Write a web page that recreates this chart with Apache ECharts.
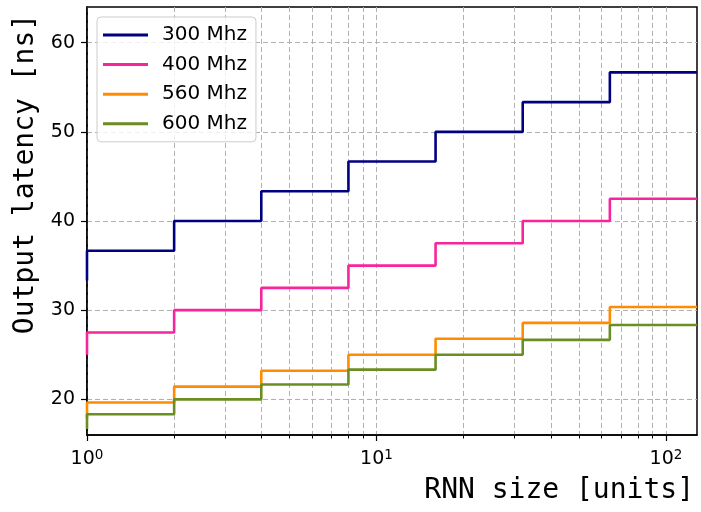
<!DOCTYPE html>
<html>
<head>
<meta charset="utf-8">
<script src="https://cdn.jsdelivr.net/npm/echarts@6/dist/echarts.min.js"></script>
<style>
  html, body { margin: 0; padding: 0; background: #fff; }
  #chart { width: 701px; height: 512px; }
</style>
</head>
<body>
<div id="chart"></div>
<script>
// RNN size (units)
var rnnSizes = [1, 2, 4, 8, 16, 32, 64, 128];
// Output latency (ns) per clock frequency
var lat300 = [33.33, 36.67, 40.00, 43.33, 46.67, 50.00, 53.33, 56.67];
var lat400 = [25.00, 27.50, 30.00, 32.50, 35.00, 37.50, 40.00, 42.50];
var lat560 = [17.86, 19.64, 21.43, 23.21, 25.00, 26.79, 28.57, 30.36];
var lat600 = [16.67, 18.33, 20.00, 21.67, 23.33, 25.00, 26.67, 28.33];
var seriesNames = ['300 Mhz', '400 Mhz', '560 Mhz', '600 Mhz'];
// Tick positions
var xMajorTicks = [1, 10, 100];
var xMinorTicks = [2, 3, 4, 5, 6, 7, 8, 9, 20, 30, 40, 50, 60, 70, 80, 90];
var yTicks = [20, 30, 40, 50, 60];

var colors = ['#000080', '#f7259b', '#ff8c00', '#6b8e23'];
var allData = [lat300, lat400, lat560, lat600];

function pairs(xs, ys) {
  return xs.map(function (x, i) { return [x, ys[i]]; });
}

var gridLine = { show: true, lineStyle: { color: '#b0b0b0', width: 1, type: [5, 3] } };

var chart = echarts.init(document.getElementById('chart'), null, { renderer: 'canvas' });
var option = {
  animation: false,
  backgroundColor: '#fff',
  title: {
    text: 'RNN size [units]',
    right: 7,
    top: 477,
    padding: 0,
    textStyle: { fontFamily: 'DejaVu Sans Mono', fontSize: 28, fontWeight: 'normal', color: '#000' }
  },
  grid: {
    left: 87, right: 4, top: 7, bottom: 77,
    show: true, borderColor: '#000', borderWidth: 1.5, backgroundColor: 'transparent'
  },
  legend: {
    orient: 'vertical',
    left: 97, top: 17,
    data: seriesNames,
    icon: 'rect',
    itemWidth: 45, itemHeight: 3,
    itemGap: 9.6,
    padding: [8, 9, 8, 6],
    backgroundColor: 'rgba(255,255,255,0.8)',
    borderColor: '#cccccc', borderWidth: 1, borderRadius: 4,
    textStyle: { fontFamily: 'DejaVu Sans', fontSize: 20, color: '#000', padding: [0, 0, 0, 9] }
  },
  xAxis: [
    {
      type: 'log', logBase: 10, min: 1, max: 128,
      axisLine: { show: true, lineStyle: { color: '#000', width: 1.5 } },
      axisTick: { show: true, inside: false, length: 6, lineStyle: { color: '#000', width: 1.2 }, customValues: xMajorTicks },
      axisLabel: {
        customValues: xMajorTicks,
        margin: 13,
        formatter: function (v) {
          var n = Math.round(Math.log10(v));
          return '{b|10}{s|' + n + '}';
        },
        rich: {
          b: { fontFamily: 'DejaVu Sans', fontSize: 19, color: '#000', lineHeight: 22, verticalAlign: 'middle' },
          s: { fontFamily: 'DejaVu Sans', fontSize: 13.5, color: '#000', verticalAlign: 'top' }
        }
      },
      splitLine: gridLine
    },
    {
      type: 'log', logBase: 10, min: 1, max: 128, position: 'bottom',
      axisLine: { show: false },
      axisTick: { show: true, inside: false, length: 3.5, lineStyle: { color: '#000', width: 1 }, customValues: xMinorTicks },
      axisLabel: { show: false },
      splitLine: gridLine
    }
  ],
  yAxis: {
    type: 'value', min: 16, max: 64,
    name: 'Output latency [ns]',
    nameLocation: 'middle',
    nameGap: 46,
    nameTextStyle: { fontFamily: 'DejaVu Sans Mono', fontSize: 28, color: '#000', padding: [0, 0, 0, 94] },
    axisLine: { show: true, lineStyle: { color: '#000', width: 1.5 } },
    axisTick: { show: true, inside: false, length: 6, lineStyle: { color: '#000', width: 1.2 }, customValues: yTicks },
    axisLabel: { customValues: yTicks, margin: 12, fontFamily: 'DejaVu Sans', fontSize: 19, color: '#000' },
    splitLine: gridLine
  },
  series: allData.map(function (ys, i) {
    return {
      name: seriesNames[i],
      type: 'line',
      xAxisIndex: 0,
      step: 'start',
      symbol: 'none',
      data: pairs(rnnSizes, ys),
      lineStyle: { color: colors[i], width: 2.6 },
      itemStyle: { color: colors[i] },
      z: 3 + i
    };
  })
};
chart.setOption(option);
</script>
</body>
</html>
